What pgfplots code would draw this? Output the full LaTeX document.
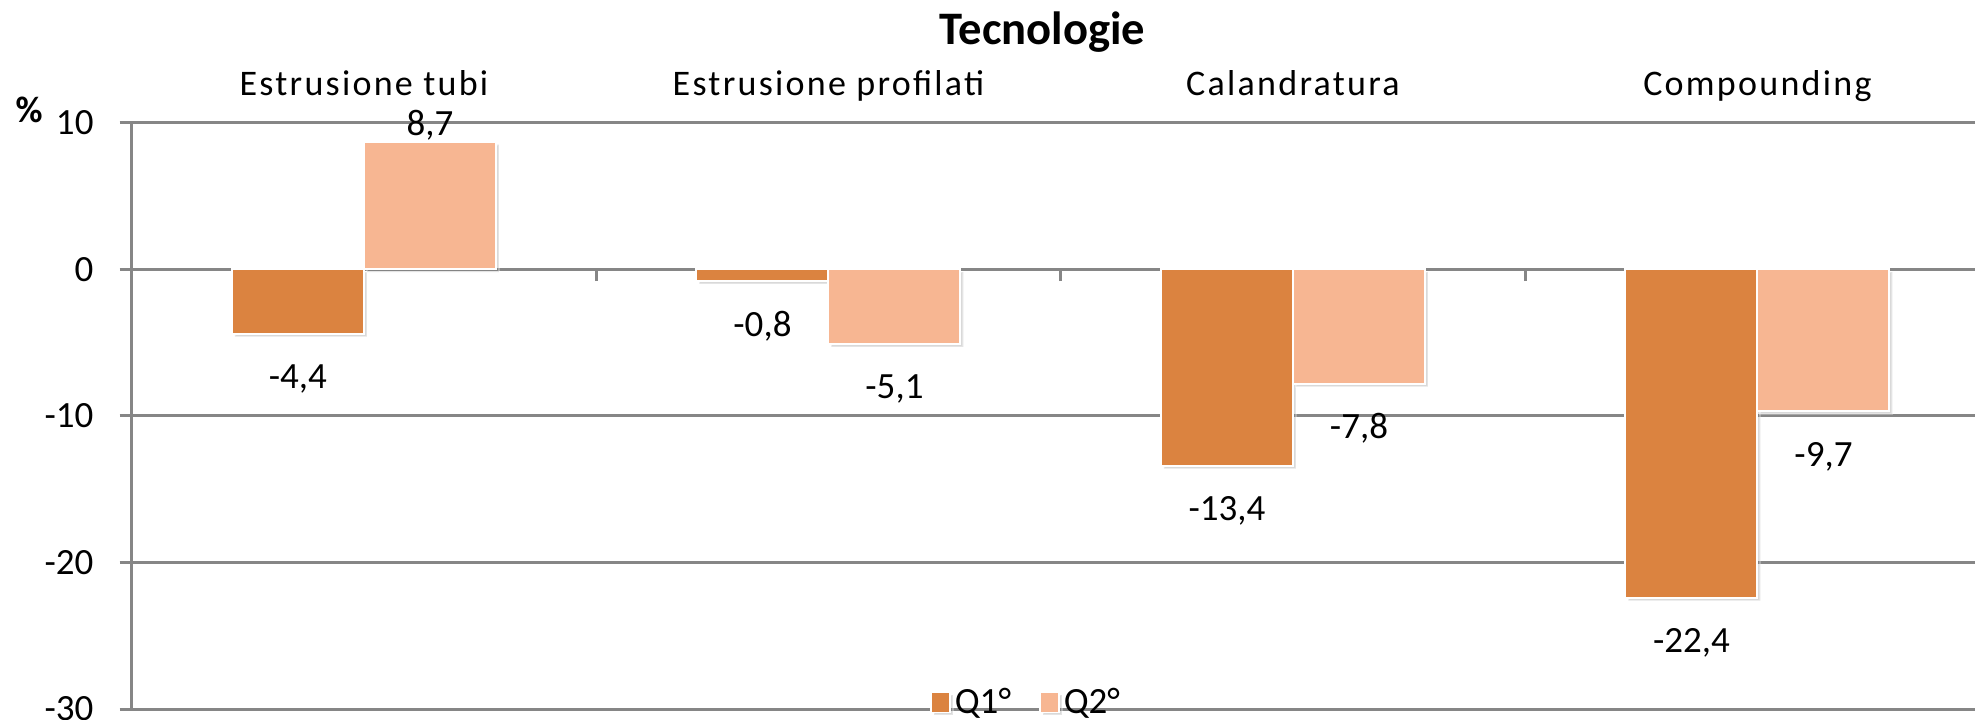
\documentclass[border=0pt]{standalone}
\usepackage{fontspec}
\setmainfont{Carlito}
\newfontfamily\spaced[LetterSpace=6.3]{Carlito}
\usepackage{pgfplots}
\pgfplotsset{compat=1.18}
\usetikzlibrary{shadows}
\definecolor{qone}{RGB}{219,131,64}
\definecolor{qtwo}{RGB}{247,182,146}
\definecolor{gridgray}{RGB}{134,134,134}
\newcommand{\lbl}{\fontsize{18.5}{22}\selectfont}
\newcommand{\cat}{\spaced\fontsize{18}{22}\selectfont}
\begin{document}
\begin{tikzpicture}[x=1pt,y=1pt]
\path[use as bounding box] (-65.85,-5) rectangle (921.65,354.5);
\begin{axis}[
  at={(0,0)}, anchor=south west,
  scale only axis, width=929pt, height=293.2pt,
  xmin=-0.5, xmax=3.5, ymin=-30, ymax=10,
  axis y line=left, axis x line=middle,
  axis line style={-, draw=gridgray, line width=1.5pt},
  ytick={-30,-20,-10,0,10},
  xtick={0.5,1.5,2.5},
  xticklabels={},
  ymajorgrids, grid style={draw=gridgray, line width=1.5pt},
  major tick style={draw=gridgray, line width=1.5pt},
  tick align=outside, major tick length=6pt,
  yticklabel style={font=\lbl, inner xsep=0pt, xshift=-12.9pt},
  /pgf/number format/assume math mode=true,
  ybar=0pt, bar width=66pt,
  clip=false,
  nodes near coords={\pgfmathprintnumber[use comma,fixed,precision=1,fixed zerofill,assume math mode=true]{\pgfplotspointmeta}},
  nodes near coords align=center,
  visualization depends on={rawy \as \rawy},
  every node near coord/.append style={font=\lbl, text=black, anchor=center, yshift={ifthenelse(\rawy<0,-22.5,8)}},
  legend style={at={(axis cs:1.4275,-29.55)}, anchor=center, legend columns=2, draw=none, fill=none, font=\lbl, inner sep=1pt,
    /tikz/every even column/.append style={column sep=12pt}},
  mylegend/.style={legend image code/.code={\fill[draw=white, line width=0.8pt] (0pt,-5pt) rectangle (9.6pt,5pt);}},
]
\addplot[fill=qone, draw=white, line width=1pt, mylegend, drop shadow={shadow xshift=1.5pt, shadow yshift=-1.5pt, opacity=0.3}] coordinates {(0,-4.4) (1,-0.8) (2,-13.4) (3,-22.4)};
\addplot[fill=qtwo, draw=white, line width=1pt, mylegend, drop shadow={shadow xshift=1.5pt, shadow yshift=-1.5pt, opacity=0.3}] coordinates {(0,8.7) (1,-5.1) (2,-7.8) (3,-9.7)};
\legend{Q1°, Q2°}
\node[font=\cat, anchor=base] at (axis cs:0,10) [yshift=13.4pt] {Estrusione tubi};
\node[font=\cat, anchor=base] at (axis cs:1,10) [yshift=13.4pt] {Estrusione profilati};
\node[font=\cat, anchor=base] at (axis cs:2,10) [yshift=13.4pt] {Calandratura};
\node[font=\cat, anchor=base] at (axis cs:3,10) [yshift=13.4pt] {Compounding};
\end{axis}
\node[font=\fontsize{23.3}{27}\selectfont\bfseries, anchor=base] at (455.4,332) {Tecnologie};
\node[font=\lbl\bfseries, anchor=center] at (-51.35,299.5) {\%};
\end{tikzpicture}
\end{document}
